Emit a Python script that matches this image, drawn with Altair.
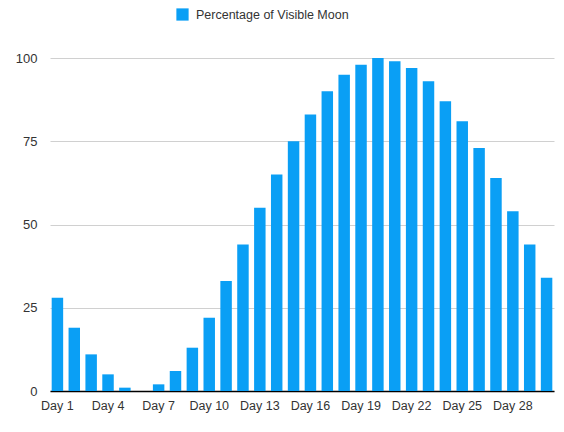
import altair as alt
import pandas as pd

days = [f"Day {i}" for i in range(1, 31)]
values = [28, 19, 11, 5, 1, 0, 2, 6, 13, 22, 33, 44, 55, 65, 75, 83, 90, 95, 98, 100,
          99, 97, 93, 87, 81, 73, 64, 54, 44, 34]
series = "Percentage of Visible Moon"
tick_labels = ["Day 1", "Day 4", "Day 7", "Day 10", "Day 13", "Day 16", "Day 19",
               "Day 22", "Day 25", "Day 28"]

df = pd.DataFrame({"day": days, "value": values, "series": [series] * len(days)})

font = "Liberation Sans"

chart = alt.Chart(df).mark_bar(color="#0a9ff5").encode(
    x=alt.X("day:N", sort=days,
            scale=alt.Scale(paddingInner=0.32, paddingOuter=0.1),
            axis=alt.Axis(title=None, values=tick_labels, labelAngle=0, ticks=False,
                          domainColor="#000000", domainWidth=1.5, labelPadding=8,
                          labelFontSize=12.5, labelColor="#333333", labelFont=font,
                          grid=False)),
    y=alt.Y("value:Q", scale=alt.Scale(domain=[0, 100], nice=False),
            axis=alt.Axis(title=None, values=[0, 25, 50, 75, 100], ticks=False,
                          domain=False, gridColor="#d0d0d0", labelPadding=13,
                          labelFontSize=13, labelColor="#333333", labelFont=font)),
    color=alt.Color("series:N", scale=alt.Scale(range=["#0a9ff5"]),
                    legend=alt.Legend(title=None, orient="none", legendX=126, legendY=-50,
                                      symbolType="square", symbolSize=150,
                                      symbolStrokeWidth=0, labelFontSize=12.5,
                                      labelFont=font, labelColor="#333333",
                                      labelOffset=7)),
).properties(
    width=504, height=333,
    autosize=alt.AutoSizeParams(type="none"),
    padding={"left": 42, "top": 50, "right": 2, "bottom": 30},
).configure_view(stroke=None)

chart.save("out.html", embed_options={"renderer": "svg", "actions": False})
